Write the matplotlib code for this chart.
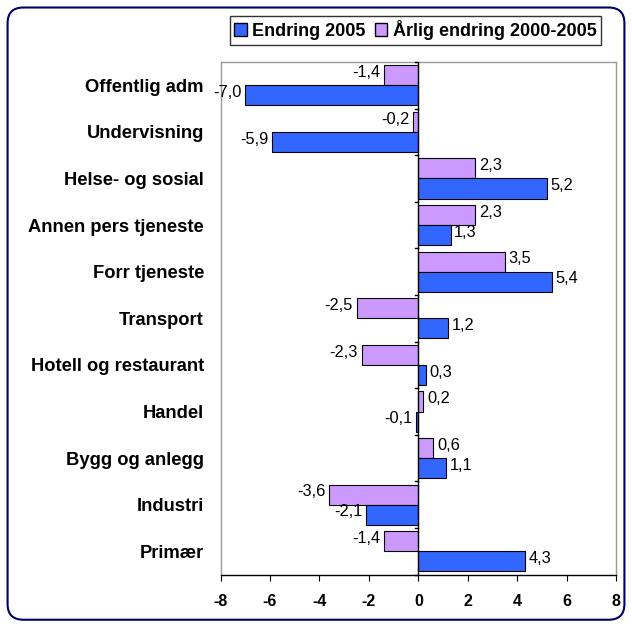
import matplotlib
matplotlib.use("Agg")
import matplotlib.pyplot as plt
from matplotlib.patches import FancyBboxPatch, Patch
import numpy as np

plt.rcParams['font.family'] = ['Liberation Sans', 'DejaVu Sans']

categories = ["Offentlig adm", "Undervisning", "Helse- og sosial", "Annen pers tjeneste",
              "Forr tjeneste", "Transport", "Hotell og restaurant", "Handel",
              "Bygg og anlegg", "Industri", "Primær"]
endring_2005 = [-7.0, -5.9, 5.2, 1.3, 5.4, 1.2, 0.3, -0.1, 1.1, -2.1, 4.3]
arlig_endring = [-1.4, -0.2, 2.3, 2.3, 3.5, -2.5, -2.3, 0.2, 0.6, -3.6, -1.4]
series_names = ["Endring 2005", "Årlig endring 2000-2005"]
xticks = [-8, -6, -4, -2, 0, 2, 4, 6, 8]

c_blue = "#3366FF"
c_lilac = "#CC99FF"

fig = plt.figure(figsize=(6.32, 6.26), dpi=100)
ax = fig.add_axes([0.349, 0.082, 0.626, 0.819])

n = len(categories)
y = np.arange(n)
h = 0.43
ax.barh(y - h / 2, arlig_endring, height=h, color=c_lilac, edgecolor="black", linewidth=0.8, zorder=3)
ax.barh(y + h / 2, endring_2005, height=h, color=c_blue, edgecolor="black", linewidth=0.8, zorder=3)

def fmt(v):
    return f"{v:.1f}".replace(".", ",")

for yi, v in zip(y - h / 2, arlig_endring):
    off = 0.15 if v >= 0 else -0.15
    ax.text(v + off, yi - 0.06, fmt(v), ha="left" if v >= 0 else "right", va="center", fontsize=11.8)
for yi, v in zip(y + h / 2, endring_2005):
    off = 0.15 if v >= 0 else -0.15
    ax.text(v + off, yi - 0.06, fmt(v), ha="left" if v >= 0 else "right", va="center", fontsize=11.8)

ax.set_ylim(n - 0.5, -0.5)
ax.set_xlim(-8, 8)
ax.set_xticks(xticks)
ax.set_xticklabels([str(t) for t in xticks], fontweight="bold", fontsize=11.5)
ax.set_yticks(y)
ax.set_yticklabels(categories, fontweight="bold", fontsize=13.2)
ax.tick_params(axis="y", length=0, pad=12)
ax.tick_params(axis="x", length=4, direction="out", color="black", pad=10)

for s in ["left", "top", "right"]:
    ax.spines[s].set_color("#999999")
    ax.spines[s].set_linewidth(1.0)
ax.spines["bottom"].set_color("black")
ax.spines["bottom"].set_linewidth(1.0)

# vertical axis at zero with category tick marks
ax.axvline(0, color="black", linewidth=1.0, zorder=4)
for b in np.arange(n + 1) - 0.5:
    ax.plot([-0.15, 0], [b, b], color="black", linewidth=1.0, zorder=4, clip_on=False)

handles = [Patch(facecolor=c_blue, edgecolor="black"), Patch(facecolor=c_lilac, edgecolor="black")]
leg = fig.legend(handles, series_names, loc="center", bbox_to_anchor=(0.657, 0.952), ncol=2,
                 frameon=True, fancybox=False, edgecolor="black", handlelength=0.7, handleheight=0.7,
                 handletextpad=0.3, columnspacing=0.5, borderpad=0.25,
                 prop={"weight": "bold", "size": 13})
leg.get_frame().set_linewidth(1.0)

border = FancyBboxPatch((0.012, 0.01), 0.976, 0.978, boxstyle="round,pad=0,rounding_size=0.025",
                        transform=fig.transFigure, fill=False, edgecolor="#000066", linewidth=1.5)
fig.patches.append(border)

fig.savefig("out.png", dpi=100)
